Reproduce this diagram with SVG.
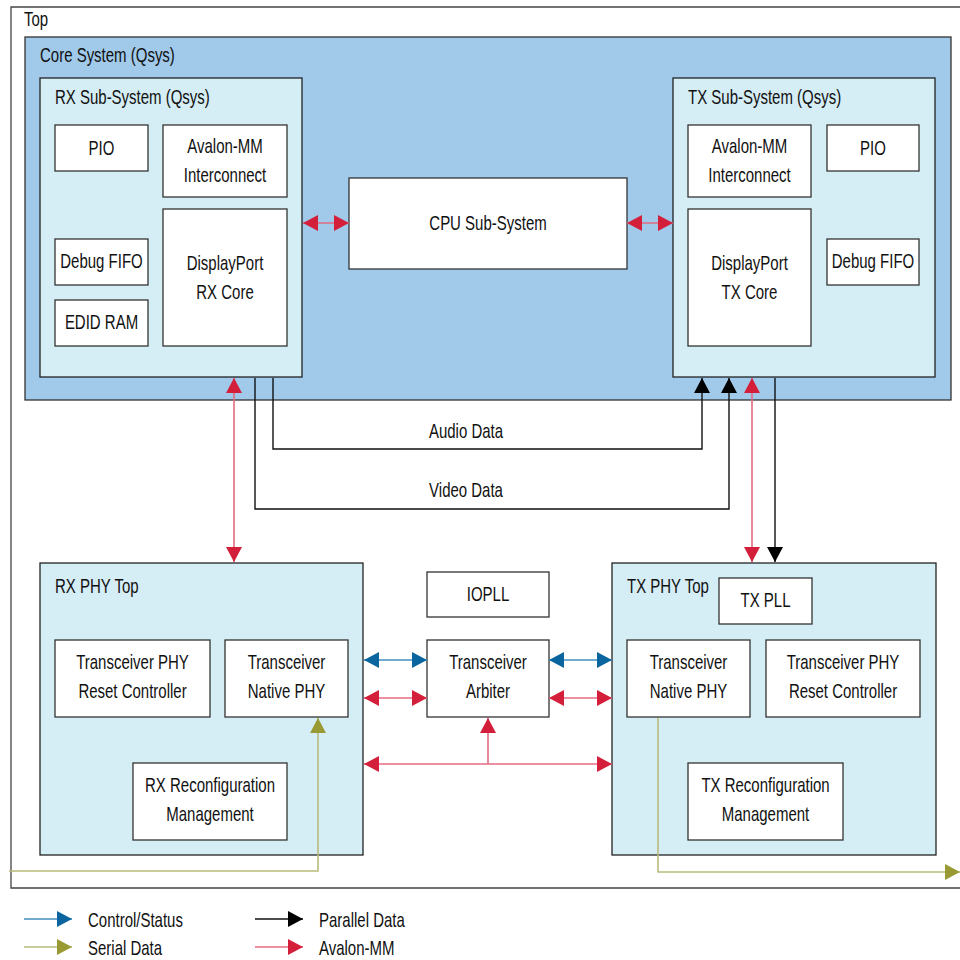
<svg xmlns="http://www.w3.org/2000/svg" width="960" height="960" viewBox="0 0 960 960">
  <defs>
    <style>
      text { font-family: "Liberation Sans", Arial, sans-serif; font-size: 20px; fill: #111; }
      .c { text-anchor: middle; }
      .blk { fill: #ffffff; stroke: #333; stroke-width: 1.3; }
      .sub { fill: #d5edf4; stroke: #222; stroke-width: 1.3; }
      .core { fill: #a0c9ea; stroke: #333; stroke-width: 1.3; }
      .red { stroke: #e36b80; stroke-width: 1.6; fill: none; }
      .blue { stroke: #3f8fc2; stroke-width: 1.6; fill: none; }
      .olive { stroke: #b9bb7c; stroke-width: 1.6; fill: none; }
      .black { stroke: #111; stroke-width: 1.4; fill: none; }
    </style>
    <marker id="mRed" markerUnits="userSpaceOnUse" markerWidth="16" markerHeight="16" refX="15" refY="8" orient="auto-start-reverse">
      <path d="M0,0 L15,8 L0,16 Z" fill="#d31f3a"/>
    </marker>
    <marker id="mBlue" markerUnits="userSpaceOnUse" markerWidth="16" markerHeight="16" refX="15" refY="8" orient="auto-start-reverse">
      <path d="M0,0 L15,8 L0,16 Z" fill="#0a649d"/>
    </marker>
    <marker id="mOlive" markerUnits="userSpaceOnUse" markerWidth="16" markerHeight="16" refX="15" refY="8" orient="auto-start-reverse">
      <path d="M0,0 L15,8 L0,16 Z" fill="#9a9a34"/>
    </marker>
    <marker id="mBlack" markerUnits="userSpaceOnUse" markerWidth="16" markerHeight="16" refX="15" refY="8" orient="auto-start-reverse">
      <path d="M0,0 L15,8 L0,16 Z" fill="#000"/>
    </marker>
  </defs>

  <rect width="960" height="960" fill="#ffffff"/>

  <!-- outer frame; labels use a horizontally condensed face: translate(x,y) scale(.75 1) -->
  <g id="top">
    <path d="M961,7 L11,7 L11,888 L961,888" fill="none" stroke="#444" stroke-width="1.3"/>
    <text transform="translate(24,26) scale(.75 1)">Top</text>
  </g>

  <g id="core-system">
    <rect class="core" x="25" y="37" width="926" height="363"/>
    <text transform="translate(40,62) scale(.75 1)">Core System (Qsys)</text>
  </g>

  <g id="rx-subsystem">
    <rect class="sub" x="40" y="78" width="262" height="299"/>
    <text transform="translate(55,104) scale(.75 1)">RX Sub-System (Qsys)</text>
  </g>
  <g id="rx-pio"><rect class="blk" x="55" y="125" width="93" height="46"/><text class="c" transform="translate(101.5,155) scale(.75 1)">PIO</text></g>
  <g id="rx-avalon"><rect class="blk" x="163" y="125" width="124" height="72"/><text class="c" transform="translate(225,153) scale(.75 1)">Avalon-MM</text><text class="c" transform="translate(225,182) scale(.75 1)">Interconnect</text></g>
  <g id="rx-debug"><rect class="blk" x="55" y="239" width="93" height="46"/><text class="c" transform="translate(101.5,268) scale(.75 1)">Debug FIFO</text></g>
  <g id="rx-edid"><rect class="blk" x="55" y="300" width="93" height="46"/><text class="c" transform="translate(101.5,329) scale(.75 1)">EDID RAM</text></g>
  <g id="rx-core"><rect class="blk" x="163" y="209" width="124" height="137"/><text class="c" transform="translate(225,270) scale(.75 1)">DisplayPort</text><text class="c" transform="translate(225,299) scale(.75 1)">RX Core</text></g>

  <g id="cpu"><rect class="blk" x="349" y="178" width="278" height="91"/><text class="c" transform="translate(488,230) scale(.75 1)">CPU Sub-System</text></g>

  <g id="tx-subsystem">
    <rect class="sub" x="673" y="78" width="262" height="299"/>
    <text transform="translate(688,104) scale(.75 1)">TX Sub-System (Qsys)</text>
  </g>
  <g id="tx-avalon"><rect class="blk" x="688" y="125" width="123" height="72"/><text class="c" transform="translate(749.5,153) scale(.75 1)">Avalon-MM</text><text class="c" transform="translate(749.5,182) scale(.75 1)">Interconnect</text></g>
  <g id="tx-pio"><rect class="blk" x="827" y="125" width="92" height="46"/><text class="c" transform="translate(873,155) scale(.75 1)">PIO</text></g>
  <g id="tx-core"><rect class="blk" x="688" y="209" width="123" height="137"/><text class="c" transform="translate(749.5,270) scale(.75 1)">DisplayPort</text><text class="c" transform="translate(749.5,299) scale(.75 1)">TX Core</text></g>
  <g id="tx-debug"><rect class="blk" x="827" y="239" width="92" height="46"/><text class="c" transform="translate(873,268) scale(.75 1)">Debug FIFO</text></g>

  <g id="rx-phy-top">
    <rect class="sub" x="40" y="563" width="323" height="292"/>
    <text transform="translate(55,593) scale(.75 1)">RX PHY Top</text>
  </g>
  <g id="rx-reset"><rect class="blk" x="55" y="640" width="155" height="77"/><text class="c" transform="translate(132.5,669) scale(.75 1)">Transceiver PHY</text><text class="c" transform="translate(132.5,698) scale(.75 1)">Reset Controller</text></g>
  <g id="rx-native"><rect class="blk" x="225" y="640" width="123" height="77"/><text class="c" transform="translate(286.5,669) scale(.75 1)">Transceiver</text><text class="c" transform="translate(286.5,698) scale(.75 1)">Native PHY</text></g>
  <g id="rx-reconfig"><rect class="blk" x="133" y="763" width="154" height="77"/><text class="c" transform="translate(210,792) scale(.75 1)">RX Reconfiguration</text><text class="c" transform="translate(210,821) scale(.75 1)">Management</text></g>

  <g id="iopll"><rect class="blk" x="427" y="572" width="122" height="45"/><text class="c" transform="translate(488,601) scale(.75 1)">IOPLL</text></g>
  <g id="arbiter"><rect class="blk" x="427" y="640" width="122" height="77"/><text class="c" transform="translate(488,669) scale(.75 1)">Transceiver</text><text class="c" transform="translate(488,698) scale(.75 1)">Arbiter</text></g>

  <g id="tx-phy-top">
    <rect class="sub" x="612" y="563" width="324" height="292"/>
    <text transform="translate(627,593) scale(.75 1)">TX PHY Top</text>
  </g>
  <g id="tx-pll"><rect class="blk" x="719" y="578" width="93" height="46"/><text class="c" transform="translate(765.5,607) scale(.75 1)">TX PLL</text></g>
  <g id="tx-native"><rect class="blk" x="627" y="640" width="123" height="77"/><text class="c" transform="translate(688.5,669) scale(.75 1)">Transceiver</text><text class="c" transform="translate(688.5,698) scale(.75 1)">Native PHY</text></g>
  <g id="tx-reset"><rect class="blk" x="766" y="640" width="154" height="77"/><text class="c" transform="translate(843,669) scale(.75 1)">Transceiver PHY</text><text class="c" transform="translate(843,698) scale(.75 1)">Reset Controller</text></g>
  <g id="tx-reconfig"><rect class="blk" x="688" y="763" width="155" height="77"/><text class="c" transform="translate(765.5,792) scale(.75 1)">TX Reconfiguration</text><text class="c" transform="translate(765.5,821) scale(.75 1)">Management</text></g>

  <g id="connectors">
    <!-- Avalon-MM links to the CPU -->
    <path class="red" d="M303,223 H349" marker-start="url(#mRed)" marker-end="url(#mRed)"/>
    <path class="red" d="M627,223 H673" marker-start="url(#mRed)" marker-end="url(#mRed)"/>
    <!-- RX core to RX PHY -->
    <path class="red" d="M234,378 V562" marker-start="url(#mRed)" marker-end="url(#mRed)"/>
    <!-- audio / video data -->
    <path class="black" d="M273,378 V449 H702 V378" marker-end="url(#mBlack)"/>
    <path class="black" d="M255,378 V509 H729 V378" marker-end="url(#mBlack)"/>
    <text class="c" transform="translate(466,438) scale(.75 1)">Audio Data</text>
    <text class="c" transform="translate(466,497) scale(.75 1)">Video Data</text>
    <!-- TX core to TX PHY -->
    <path class="red" d="M752,378 V562" marker-start="url(#mRed)" marker-end="url(#mRed)"/>
    <path class="black" d="M775,378 V562" marker-end="url(#mBlack)"/>
    <!-- arbiter links -->
    <path class="blue" d="M364,660 H427" marker-start="url(#mBlue)" marker-end="url(#mBlue)"/>
    <path class="blue" d="M549,660 H612" marker-start="url(#mBlue)" marker-end="url(#mBlue)"/>
    <path class="red" d="M364,698 H427" marker-start="url(#mRed)" marker-end="url(#mRed)"/>
    <path class="red" d="M549,698 H612" marker-start="url(#mRed)" marker-end="url(#mRed)"/>
    <path class="red" d="M364,764 H612" marker-start="url(#mRed)" marker-end="url(#mRed)"/>
    <path class="red" d="M488,764 V718" marker-end="url(#mRed)"/>
    <!-- serial data -->
    <path class="olive" d="M9,871 H318 V718" marker-end="url(#mOlive)"/>
    <path class="olive" d="M658,718 V872 H960" marker-end="url(#mOlive)"/>
  </g>

  <g id="legend">
    <path class="blue" d="M24,919 H72" marker-end="url(#mBlue)"/>
    <text transform="translate(88,927) scale(.75 1)">Control/Status</text>
    <path class="olive" d="M24,947 H72" marker-end="url(#mOlive)"/>
    <text transform="translate(88,955) scale(.75 1)">Serial Data</text>
    <path class="black" d="M255,919 H303" marker-end="url(#mBlack)"/>
    <text transform="translate(319,927) scale(.75 1)">Parallel Data</text>
    <path class="red" d="M255,947 H303" marker-end="url(#mRed)"/>
    <text transform="translate(319,955) scale(.75 1)">Avalon-MM</text>
  </g>
</svg>
